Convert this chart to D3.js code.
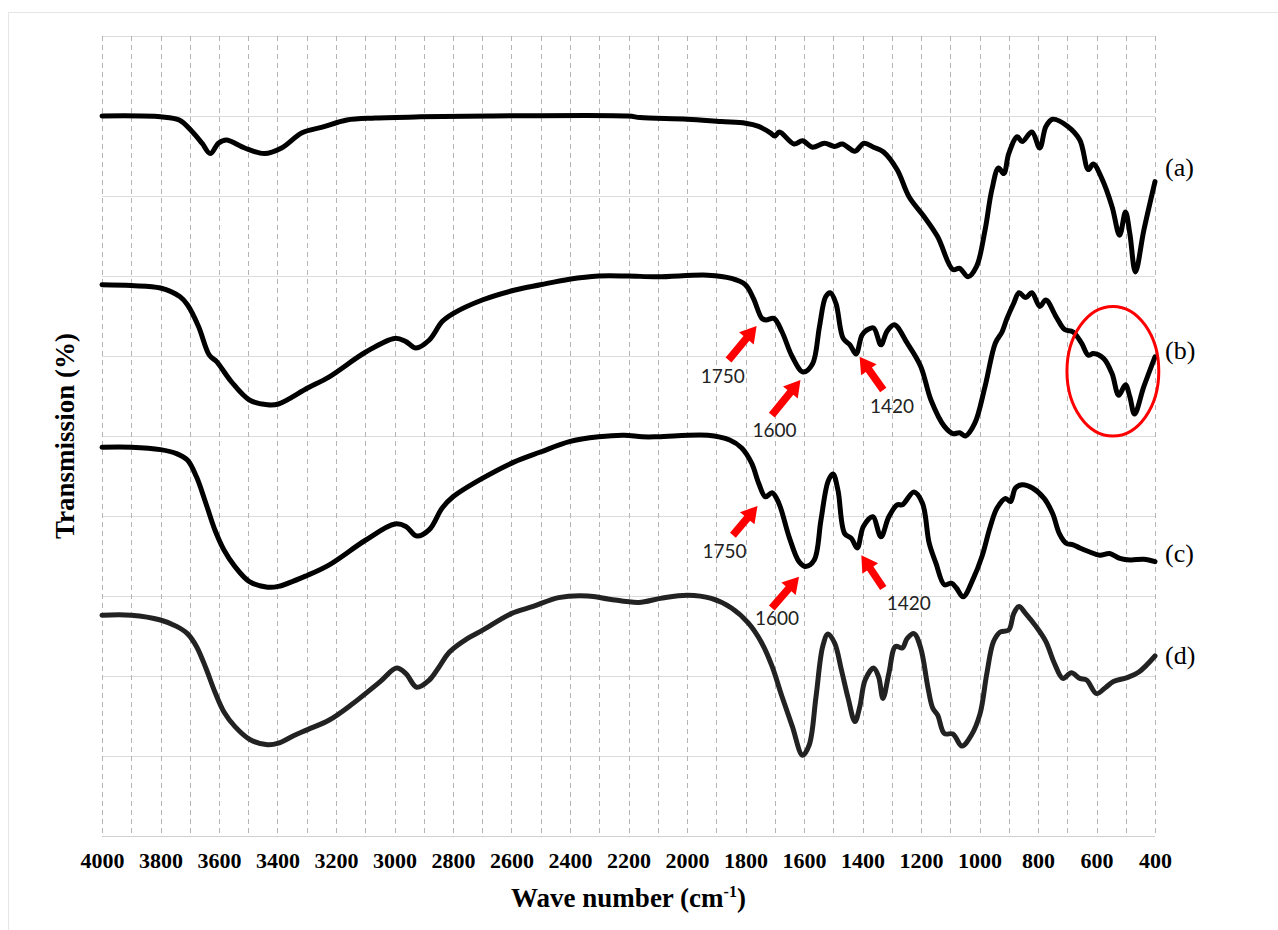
<!DOCTYPE html>
<html>
<head>
<meta charset="utf-8">
<script src="https://cdn.jsdelivr.net/npm/d3@7"></script>
<style>
  html, body { margin: 0; padding: 0; background: #fff; }
  svg { display: block; }
</style>
</head>
<body>
<svg id="chart" width="1278" height="930"></svg>
<script>
// ---------- DATA ----------
const xTicks = [4000, 3800, 3600, 3400, 3200, 3000, 2800, 2600, 2400, 2200, 2000, 1800, 1600, 1400, 1200, 1000, 800, 600, 400];
const seriesNames = ["(a)", "(b)", "(c)", "(d)"];
const seriesLabelT = [83.25, 60.4, 35, 22.25];

const seriesA = [[4000,90],[3800,89.9],[3736,89.5],[3693,88.1],[3658,86.6],[3630,85.3],[3602,86.6],[3575,87.0],[3512,86.0],[3445,85.3],[3386,86.0],[3316,87.9],[3247,88.6],[3163,89.5],[3066,89.75],[2912,89.9],[2675,90],[2200,90],[2160,89.8],[2000,89.6],[1883,89.3],[1800,89.1],[1755,88.7],[1715,87.9],[1700,87.5],[1684,88.0],[1634,86.5],[1605,86.9],[1571,86.1],[1530,86.6],[1495,86.2],[1469,86.5],[1426,85.6],[1395,86.6],[1362,86.1],[1328,85.5],[1281,83.25],[1241,79.9],[1189,77.4],[1143,74.9],[1091,70.8],[1068,70.96],[1039,69.9],[1010,71.2],[981,75.75],[958,80.75],[935,83.5],[917,82.8],[900,85.3],[871,87.4],[854,86.8],[821,88.0],[794,86.0],[773,88.7],[750,89.6],[698,88.7],[657,87.0],[628,83.3],[611,84.0],[582,82.2],[547,78.7],[521,75.1],[501,78.0],[486,75.3],[467,70.5],[438,75.75],[400,81.8]];

const seriesB = [[4000,68.9],[3900,68.8],[3800,68.5],[3733,67.4],[3708,66.4],[3670,63.7],[3633,60.1],[3608,59.3],[3558,56.8],[3496,54.5],[3434,53.9],[3397,54.0],[3297,56.0],[3223,57.4],[3098,60.5],[2999,62.2],[2961,61.8],[2927,61.0],[2881,62.0],[2837,64.3],[2800,65.3],[2700,67.0],[2588,68.25],[2501,68.9],[2402,69.6],[2302,70.0],[2203,70.0],[2100,69.9],[1929,70.1],[1848,69.7],[1800,68.9],[1773,67.2],[1744,64.7],[1730,64.5],[1703,64.7],[1675,63.0],[1640,59.9],[1603,58.0],[1571,59.0],[1547,63.7],[1526,67.4],[1510,67.9],[1491,66.6],[1466,62.2],[1443,61.4],[1422,60.25],[1402,62.6],[1385,63.25],[1362,63.5],[1337,61.4],[1316,63.1],[1291,63.9],[1247,61.6],[1201,58.7],[1166,54.5],[1120,51.2],[1091,50.3],[1068,50.4],[1048,50.0],[1016,51.6],[981,56.2],[946,61.6],[923,63.0],[906,64.7],[883,66.6],[865,67.9],[842,67.3],[821,67.9],[794,66.2],[773,67.0],[738,64.9],[709,63.3],[680,63.0],[651,61.6],[628,60.1],[611,60.3],[576,59.7],[547,57.8],[524,55.1],[501,56.4],[486,54.9],[470,52.75],[438,56.2],[400,59.9]];

const seriesC = [[4000,48.6],[3900,48.6],[3800,48.3],[3745,47.8],[3708,47.0],[3677,44.9],[3645,41.6],[3614,38.25],[3583,35.75],[3546,33.7],[3496,31.8],[3434,31.1],[3397,31.2],[3297,32.6],[3223,33.9],[3098,37.0],[2999,39.0],[2961,38.7],[2924,37.5],[2881,38.3],[2837,41.0],[2800,42.4],[2700,44.7],[2594,46.7],[2501,48.0],[2402,49.3],[2302,49.9],[2215,50.1],[2153,49.9],[2100,49.9],[1929,50.1],[1854,49.5],[1813,48.5],[1779,46.6],[1755,44.1],[1732,42.4],[1709,42.9],[1686,41.6],[1651,37.4],[1617,34.3],[1594,33.7],[1565,34.5],[1542,39.5],[1518,44.3],[1501,45.25],[1484,43.25],[1461,37.8],[1438,37.2],[1418,36.0],[1397,38.7],[1365,39.9],[1337,37.4],[1310,39.9],[1281,41.4],[1264,41.4],[1224,43.0],[1195,41.6],[1172,36.6],[1149,34.1],[1120,31.4],[1096,31.6],[1079,31.0],[1056,29.9],[1021,32.2],[992,34.9],[963,38.7],[940,41.0],[911,42.2],[894,41.8],[877,43.5],[854,43.9],[819,43.5],[779,42.2],[750,40.3],[727,37.8],[704,36.6],[680,36.4],[657,36.0],[623,35.5],[589,35.1],[555,35.3],[520,34.7],[484,34.5],[438,34.6],[400,34.3]];

const seriesD = [[4000,27.6],[3900,27.6],[3800,27.0],[3745,26.2],[3708,25.3],[3677,23.7],[3645,21.0],[3614,18.0],[3583,15.5],[3546,13.7],[3496,12.1],[3434,11.4],[3397,11.6],[3347,12.5],[3297,13.3],[3223,14.5],[3148,16.4],[3049,19.3],[2993,21.0],[2961,20.3],[2924,18.6],[2881,19.5],[2850,21.0],[2812,23.0],[2750,24.7],[2700,25.7],[2601,27.8],[2526,28.7],[2439,29.8],[2339,30.0],[2265,29.6],[2165,29.2],[2091,29.7],[1998,30.1],[1917,29.7],[1848,28.5],[1790,26.6],[1744,24.1],[1709,21.2],[1675,17.4],[1640,13.7],[1605,10.1],[1582,11.4],[1559,17.4],[1536,23.7],[1518,25.25],[1495,24.1],[1472,20.75],[1449,17.2],[1426,14.3],[1409,16.2],[1391,19.5],[1362,21.0],[1345,19.9],[1330,17.2],[1310,20.3],[1287,23.7],[1264,23.5],[1247,24.7],[1224,25.3],[1201,23.5],[1177,18.7],[1160,16.0],[1143,15.1],[1120,12.8],[1091,12.75],[1060,11.25],[1028,12.6],[998,15.3],[975,20.3],[952,24.3],[929,25.5],[900,25.75],[883,27.8],[865,28.7],[842,27.8],[807,26.2],[773,24.3],[744,21.6],[715,19.7],[686,20.4],[657,19.7],[634,19.5],[600,17.8],[571,18.5],[542,19.3],[495,19.8],[455,20.5],[400,22.5]];

// annotation arrows (wave number, transmission)
const arrowLabels = ["1750", "1600", "1420", "1750", "1600", "1420"];
const arrowTails = [[1858,59.5],[1710,52.6],[1329,55.75],[1843,37.6],[1710,28.5],[1329,31.0]];
const arrowTips  = [[1762,63.75],[1612,57.0],[1410,59.9],[1759,41.25],[1617,32.4],[1404,35.1]];
const arrowTextPos = [[1878,57.2],[1701,50.5],[1299,53.5],[1872,35.4],[1692,27.0],[1242,28.9]];

// highlight ellipse: center [wn,T], radii [wn units, T units]
const ellipseCenter = [544, 58.1];
const ellipseRadii = [157, 8.1];

// ---------- CHART ----------
const svg = d3.select("#chart");
const mLeft = 102, mRight = 1155, mTop = 36, mBottom = 836;

svg.append("rect").attr("x", 8.5).attr("y", 12.5).attr("width", 1290).attr("height", 940)
  .attr("fill", "#fff").attr("stroke", "#e6e6e6");

const x = d3.scaleLinear().domain([4000, 400]).range([mLeft, mRight]);
const y = d3.scaleLinear().domain([0, 100]).range([mBottom, mTop]);

// horizontal gridlines
svg.append("g").selectAll("line").data(d3.range(0, 101, 10)).join("line")
  .attr("x1", mLeft).attr("x2", mRight)
  .attr("y1", d => Math.round(y(d)) + 0.5).attr("y2", d => Math.round(y(d)) + 0.5)
  .attr("stroke", d => d === 0 ? "#d0d0d0" : "#dcdcdc").attr("stroke-width", 1);

// vertical dashed gridlines
svg.append("g").selectAll("line").data(d3.range(4000, 399, -100)).join("line")
  .attr("x1", d => Math.round(x(d)) + 0.5).attr("x2", d => Math.round(x(d)) + 0.5)
  .attr("y1", mTop).attr("y2", mBottom)
  .attr("stroke", "#b4b4b4").attr("stroke-width", 1).attr("stroke-dasharray", "5,4");

// x axis labels
const xAxis = d3.axisBottom(x).tickValues(xTicks).tickSize(0).tickPadding(0).tickFormat(d3.format("d"));
const gx = svg.append("g").attr("transform", `translate(0,${mBottom})`).call(xAxis);
gx.select(".domain").remove();
gx.selectAll("text")
  .attr("y", 27).attr("dy", null).attr("dominant-baseline", "middle")
  .attr("font-family", "'Liberation Serif', 'Times New Roman', serif")
  .attr("font-weight", "bold").attr("font-size", 22).attr("fill", "#000");

// axis titles
const xt = svg.append("text").attr("x", (mLeft + mRight) / 2).attr("y", 907)
  .attr("text-anchor", "middle")
  .attr("font-family", "'Liberation Serif', 'Times New Roman', serif")
  .attr("font-weight", "bold").attr("font-size", 27).attr("fill", "#000");
xt.append("tspan").text("Wave number (cm");
xt.append("tspan").attr("dy", -10).attr("font-size", 16).text("-1");
xt.append("tspan").attr("dy", 10).text(")");

svg.append("text")
  .attr("transform", `translate(68,${(mTop + mBottom) / 2}) rotate(-90)`)
  .attr("text-anchor", "middle").attr("dominant-baseline", "middle")
  .attr("font-family", "'Liberation Serif', 'Times New Roman', serif")
  .attr("font-weight", "bold").attr("font-size", 27).attr("fill", "#000")
  .text("Transmission (%)");

// curves
const line = d3.line().x(d => x(d[0])).y(d => y(d[1])).curve(d3.curveCatmullRom.alpha(0.5));
const allSeries = [seriesA, seriesB, seriesC, seriesD];
const colors = ["#000", "#000", "#000", "#222"];
svg.append("g").selectAll("path").data(allSeries).join("path")
  .attr("d", line).attr("fill", "none")
  .attr("stroke", (d, i) => colors[i]).attr("stroke-width", 5)
  .attr("stroke-linejoin", "round").attr("stroke-linecap", "round");

// series labels
svg.append("g").selectAll("text").data(seriesNames).join("text")
  .attr("x", mRight + 10).attr("y", (d, i) => y(seriesLabelT[i]))
  .attr("dominant-baseline", "middle")
  .attr("font-family", "'Liberation Serif', 'Times New Roman', serif")
  .attr("font-size", 26).attr("fill", "#000").text(d => d);

// ellipse
svg.append("ellipse")
  .attr("cx", x(ellipseCenter[0])).attr("cy", y(ellipseCenter[1]))
  .attr("rx", Math.abs(x(ellipseCenter[0] + ellipseRadii[0]) - x(ellipseCenter[0])))
  .attr("ry", Math.abs(y(ellipseCenter[1] + ellipseRadii[1]) - y(ellipseCenter[1])))
  .attr("fill", "none").attr("stroke", "#ff0000").attr("stroke-width", 3);

// arrows
function arrowPath(t, p) {
  const x1 = x(t[0]), y1 = y(t[1]), x2 = x(p[0]), y2 = y(p[1]);
  const dx = x2 - x1, dy = y2 - y1, L = Math.hypot(dx, dy);
  const ux = dx / L, uy = dy / L, nx = -uy, ny = ux;
  const hl = 16, hw = 9.5, sw = 3.8;
  const bx = x2 - ux * hl, by = y2 - uy * hl;
  const pts = [
    [x1 + nx * sw, y1 + ny * sw], [bx + nx * sw, by + ny * sw], [bx + nx * hw, by + ny * hw],
    [x2, y2], [bx - nx * hw, by - ny * hw], [bx - nx * sw, by - ny * sw], [x1 - nx * sw, y1 - ny * sw]
  ];
  return "M" + pts.map(q => q.join(",")).join("L") + "Z";
}
svg.append("g").selectAll("path").data(arrowLabels).join("path")
  .attr("d", (d, i) => arrowPath(arrowTails[i], arrowTips[i]))
  .attr("fill", "#ff0000");

svg.append("g").selectAll("text").data(arrowLabels).join("text")
  .attr("x", (d, i) => x(arrowTextPos[i][0])).attr("y", (d, i) => y(arrowTextPos[i][1]))
  .attr("text-anchor", "middle").attr("dominant-baseline", "middle")
  .attr("font-family", "Lato, 'Open Sans', sans-serif").attr("font-size", 19)
  .attr("fill", "#222").text(d => d);
</script>
</body>
</html>
